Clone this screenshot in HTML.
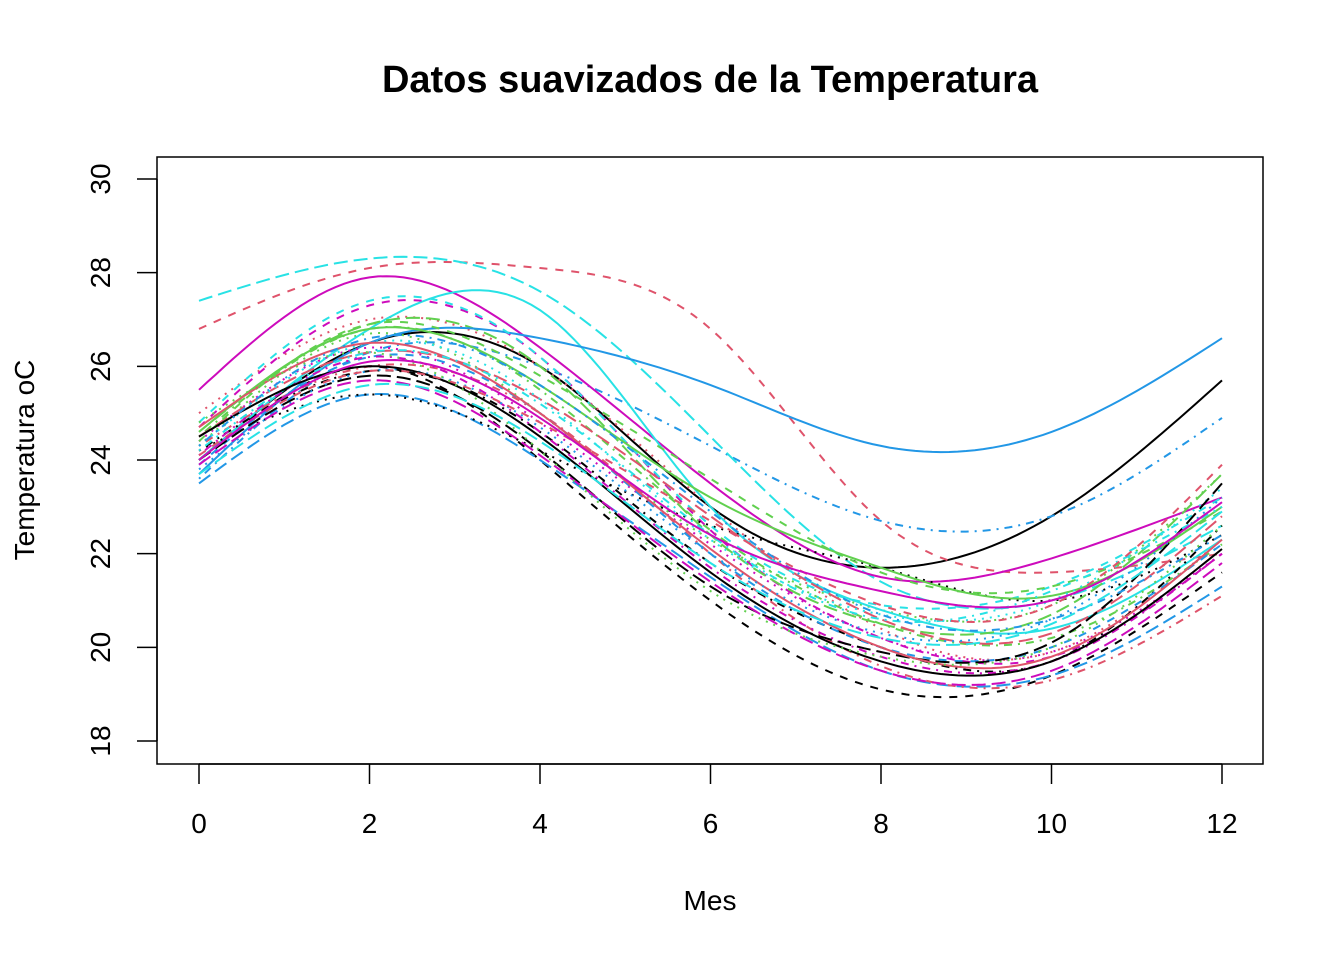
<!DOCTYPE html>
<html><head><meta charset="utf-8">
<style>
body{margin:0;background:#fff;}
svg{display:block;font-family:"Liberation Sans",Arial,sans-serif;}
</style></head>
<body>
<svg id="chart" width="1344" height="960" viewBox="0 0 1344 960" xmlns="http://www.w3.org/2000/svg">
<rect x="0" y="0" width="1344" height="960" fill="#fff"/>
<text x="710" y="92" text-anchor="middle" font-size="38" font-weight="bold">Datos suavizados de la Temperatura</text>
<rect x="157" y="157" width="1106" height="607" fill="none" stroke="#000" stroke-width="1.5"/>
<g id="series"></g>
<g id="xaxis"></g>
<g id="yaxis"></g>
<text x="710" y="910" text-anchor="middle" font-size="28">Mes</text>
<text transform="translate(34,460) rotate(-90)" text-anchor="middle" font-size="28">Temperatura oC</text>
</svg>
<script>
const months = [0,2,4,6,8,10,12];
const xTicks = [0,2,4,6,8,10,12];
const yTicks = [18,20,22,24,26,28,30];
const seriesValues = [
 [24.0,26.5,26.0,23.0,21.7,22.8,25.7],
 [26.8,28.1,28.1,26.8,22.7,21.6,22.0],
 [24.3,26.7,25.0,22.3,20.8,20.9,23.7],
 [23.6,26.3,26.0,24.3,22.7,22.8,24.9],
 [27.4,28.3,27.6,24.5,21.4,21.0,22.6],
 [25.5,27.9,26.4,23.5,21.5,21.9,23.2],
 [24.0,26.0,24.0,21.0,19.1,19.4,21.6],
 [25.0,27.0,26.0,23.0,20.4,19.9,22.3],
 [24.5,26.8,25.5,22.5,20.5,20.2,22.2],
 [23.5,25.4,24.0,21.5,19.5,19.4,21.3],
 [24.0,26.8,27.2,23.0,20.8,20.4,22.3],
 [24.7,27.3,26.2,22.5,20.2,19.8,22.0],
 [24.2,25.4,24.2,22.6,21.7,21.0,22.4],
 [24.3,26.0,25.0,22.0,19.6,19.3,21.1],
 [24.6,26.9,26.0,22.4,20.5,20.7,23.7],
 [23.7,26.5,26.6,25.6,24.3,24.6,26.6],
 [24.8,27.4,26.2,22.6,20.9,21.3,23.2],
 [24.4,26.4,24.8,22.2,20.2,19.9,22.0],
 [24.2,25.9,24.6,21.8,20.0,19.7,22.6],
 [24.5,26.3,25.3,22.8,20.6,20.3,22.8],
 [24.6,26.8,25.6,23.2,21.7,21.1,23.0],
 [23.9,26.2,25.0,22.0,20.0,20.0,22.2],
 [24.3,26.5,25.3,22.3,20.7,21.0,23.4],
 [24.1,26.2,24.6,21.7,19.8,19.7,22.0],
 [24.0,25.8,24.2,21.3,19.9,20.1,23.5],
 [24.7,26.5,25.0,22.1,20.0,19.8,22.3],
 [24.4,26.9,25.8,23.6,21.6,21.3,22.9],
 [23.8,25.9,24.7,22.0,20.3,20.6,23.2],
 [24.2,26.3,25.2,22.4,20.6,21.2,23.0],
 [23.9,25.7,24.1,21.4,19.5,19.5,21.8],
 [24.5,26.0,24.5,21.6,19.7,19.7,22.1],
 [24.1,25.9,24.8,22.7,20.9,20.9,23.9],
 [24.8,26.3,24.2,21.2,19.8,20.0,22.6],
 [24.3,26.6,25.6,22.9,20.7,20.6,22.4],
 [23.7,25.6,24.4,21.8,20.2,20.5,22.9],
 [24.0,26.1,24.9,22.4,21.2,21.0,23.1]
];
const palette = ["#000000","#DF536B","#61D04F","#2297E6","#28E2E5","#CD0BBC"];
const dashes = ["", "8,8", "2,6", "2,6,8,6", "14,6"];
const X0=199, X1=1222, Y0=741, Y1=179;
const xs = v => X0 + (v-0)*(X1-X0)/12;
const ys = v => Y0 - (v-18)*(Y0-Y1)/12;
function spline(xv, yv){
  const n=xv.length, h=[], a=[], l=[1], mu=[0], z=[0], c=new Array(n).fill(0), b=[], d=[];
  for(let i=0;i<n-1;i++) h.push(xv[i+1]-xv[i]);
  for(let i=1;i<n-1;i++) a[i]=3/h[i]*(yv[i+1]-yv[i])-3/h[i-1]*(yv[i]-yv[i-1]);
  for(let i=1;i<n-1;i++){l[i]=2*(xv[i+1]-xv[i-1])-h[i-1]*mu[i-1];mu[i]=h[i]/l[i];z[i]=(a[i]-h[i-1]*z[i-1])/l[i];}
  for(let j=n-2;j>=0;j--){c[j]=(j<n-1&&j>0?z[j]-mu[j]*c[j+1]:0);if(j===0)c[0]=0;b[j]=(yv[j+1]-yv[j])/h[j]-h[j]*(c[j+1]+2*c[j])/3;d[j]=(c[j+1]-c[j])/(3*h[j]);}
  return t=>{let i=Math.min(n-2,Math.max(0,Math.floor((t-xv[0])/h[0])));const dx=t-xv[i];return yv[i]+b[i]*dx+c[i]*dx*dx+d[i]*dx*dx*dx;};
}
const NS="http://www.w3.org/2000/svg";
const sg=document.getElementById('series');
seriesValues.forEach((vals,k)=>{
  const f=spline(months,vals);
  let dstr="";
  for(let t=0;t<=12.0001;t+=0.1){dstr+=(t===0?"M":"L")+xs(t).toFixed(1)+","+ys(f(t)).toFixed(1);}
  const p=document.createElementNS(NS,'path');
  p.setAttribute('d',dstr);p.setAttribute('fill','none');
  p.setAttribute('stroke',palette[k%6]);p.setAttribute('stroke-width','2');
  if(dashes[k%5])p.setAttribute('stroke-dasharray',dashes[k%5]);
  
  
  sg.appendChild(p);
});
const xg=document.getElementById('xaxis');
let ln=document.createElementNS(NS,'line');
ln.setAttribute('x1',xs(0));ln.setAttribute('x2',xs(12));ln.setAttribute('y1',764);ln.setAttribute('y2',764);ln.setAttribute('stroke','#000');ln.setAttribute('stroke-width','1.5');


xg.appendChild(ln);
xTicks.forEach(v=>{
  const t=document.createElementNS(NS,'line');
  t.setAttribute('x1',xs(v));t.setAttribute('x2',xs(v));t.setAttribute('y1',764);t.setAttribute('y2',784);t.setAttribute('stroke','#000');t.setAttribute('stroke-width','1.5');
  
  
  xg.appendChild(t);
  const tx=document.createElementNS(NS,'text');
  tx.setAttribute('x',xs(v));tx.setAttribute('y',833);tx.setAttribute('text-anchor','middle');tx.setAttribute('font-size','28');tx.textContent=v;
  
  
  xg.appendChild(tx);
});
const yg=document.getElementById('yaxis');
ln=document.createElementNS(NS,'line');
ln.setAttribute('x1',157);ln.setAttribute('x2',157);ln.setAttribute('y1',ys(18));ln.setAttribute('y2',ys(30));ln.setAttribute('stroke','#000');ln.setAttribute('stroke-width','1.5');


yg.appendChild(ln);
yTicks.forEach(v=>{
  const t=document.createElementNS(NS,'line');
  t.setAttribute('x1',137);t.setAttribute('x2',157);t.setAttribute('y1',ys(v));t.setAttribute('y2',ys(v));t.setAttribute('stroke','#000');t.setAttribute('stroke-width','1.5');
  
  
  yg.appendChild(t);
  const tx=document.createElementNS(NS,'text');
  tx.setAttribute('transform','translate(110,'+ys(v)+') rotate(-90)');tx.setAttribute('text-anchor','middle');tx.setAttribute('font-size','28');tx.textContent=v;
  
  
  yg.appendChild(tx);
});
</script>
</body></html>
